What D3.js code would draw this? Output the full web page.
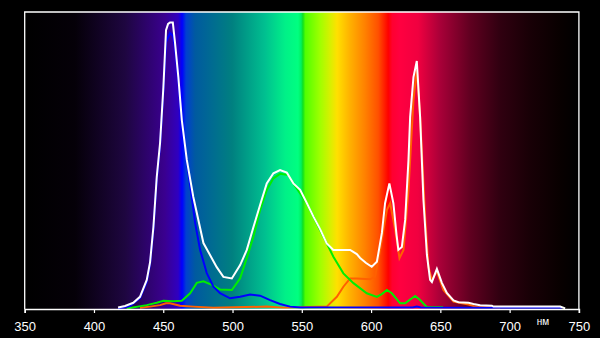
<!DOCTYPE html>
<html><head><meta charset="utf-8">
<script src="https://cdn.jsdelivr.net/npm/d3@7"></script>
<style>html,body{margin:0;padding:0;background:#000;}svg{display:block;}</style>
</head><body>
<script>
// ---- data (wavelength nm, relative intensity 0..100) ----
const tickValues = [350,400,450,500,550,600,650,700,750];
const unitLabel = "нм";

const whiteNm = [417.4,422.4,428.4,433.2,438.1,440.5,442.9,445.3,447.7,450.1,452.0,453.5,454.9,456.9,458.5,460.9,463.4,467.0,471.7,479.0,488.6,493.4,499.5,505.5,510.3,515.1,519.9,524.7,529.5,534.3,539.2,543.9,548.8,553.6,558.4,563.2,568.0,572.8,584.9,589.7,592.1,596.4,600.5,604.2,607.8,610.1,613.2,616.1,618.4,619.7,622.2,624.6,627.0,628.2,630.6,633.0,635.4,637.8,640.3,642.6,643.9,647.5,651.1,654.7,659.5,663.1,670.3,673.9,678.7,687.2,688.3,736.5,740.1];
const whiteVal = [0.5,1.0,2.1,4.1,9.8,15.8,27.6,44.4,55.9,74.7,93.9,96.0,96.5,96.5,89.6,78.1,63.6,50.2,37.7,22.2,14.1,10.8,10.3,14.8,19.9,27.6,35.0,42.3,45.7,46.8,45.9,42.3,40.1,35.7,31.1,26.9,22.1,19.9,19.9,18.5,17.2,15.5,14.2,15.9,25.6,35.6,42.3,35.6,24.9,19.9,20.9,30.0,50.2,64.6,78.1,83.5,64.6,36.7,18.2,9.8,9.1,13.5,8.8,5.4,2.9,2.3,2.1,1.7,1.3,1.1,0.8,0.8,0.2];

const blueNm = [417.4,426.0,433.2,438.1,440.5,442.9,445.3,447.7,450.1,452.0,454.9,457.1,458.5,460.9,463.4,467.0,470.6,473.0,476.6,481.4,486.2,491.0,498.2,505.5,512.7,519.9,527.1,534.3,541.6,548.8,630.0,633.0,636.0,737.7];
const blueVal = [0.2,1.0,3.7,9.1,15.2,26.6,43.4,54.9,73.1,89.9,92.9,91.9,87.9,77.1,63.0,49.5,37.7,29.0,19.9,12.1,7.5,5.3,3.6,4.1,4.9,4.5,3.0,1.7,0.8,0.5,0.5,0.8,0.5,0.4];

const greenNm = [423.6,438.1,445.3,450.1,457.3,463.4,469.4,474.2,479.0,485.0,491.0,499.5,503.1,505.5,510.3,515.1,519.9,524.7,529.5,534.3,540.3,543.9,553.6,563.2,568.0,572.8,580.0,587.3,596.9,604.2,608.0,611.4,615.0,621.0,624.6,628.2,631.8,635.4,640.3,652.0];
const greenVal = [0.2,1.3,2.1,2.8,2.6,2.8,5.3,8.8,9.3,8.1,6.6,6.4,8.7,10.3,17.2,24.3,33.3,40.1,44.0,45.5,45.1,42.3,35.6,26.6,22.1,17.6,12.0,8.7,5.3,4.1,5.1,6.4,5.3,1.9,1.9,3.2,4.4,3.0,0.6,0.6];

const orangeNm = [433.2,440.5,447.7,452.0,454.9,462.1,471.7,486.2,524.7,536.7,568.0,575.3,580.0,584.9,589.7,599.3,602.9,606.5,611.4,613.8,617.4,620.5,623.4,627.0,630.6,633.0,635.4,639.0,641.4,643.9,647.5,652.2,659.5,670.3,675.1,687.2,693.2];
const orangeVal = [0.4,0.8,1.3,1.9,1.9,1.1,0.8,0.4,0.8,0.4,0.8,4.1,7.5,10.3,10.3,10.0,10.9,19.9,33.3,35.6,26.6,17.1,19.9,40.1,70.4,80.5,64.7,31.1,14.2,9.8,12.6,6.4,2.5,1.5,0.8,0.6,0.4];

const spectrumNm = [350,386.3,422.5,451.3,460.7,463.6,466.5,473,499.7,523.5,538,547.3,549.5,550.8,552.5,563.2,570.5,575.5,585,595.8,605.2,611,612.4,615.3,621,634,650,671.6,693,714.8,736.5,750];
const spectrumColor = ["#000000","#050008","#1e0640","#3a0090","#3000c0","#0000ff","#0040d0","#005aa0","#008080","#00c090","#00f088","#00ff80","#00f060","#10e020","#50ff00","#a0ff00","#d8f000","#ffe000","#ffb000","#ff8000","#ff5000","#ff1000","#ff0000","#ff0030","#ff0040","#f00040","#a80038","#600020","#300010","#180006","#080000","#000000"];

// ---- chart ----
const W = 600, H = 338;
const svg = d3.select("body").append("svg").attr("width", W).attr("height", H);
svg.append("rect").attr("width", W).attr("height", H).attr("fill", "#000");

const x = d3.scaleLinear().domain([350, 750]).range([24.7, 578.9]);
const y = d3.scaleLinear().domain([0, 100]).range([309, 12]);

const defs = svg.append("defs");
const grad = defs.append("linearGradient").attr("id", "spec")
  .attr("gradientUnits", "userSpaceOnUse")
  .attr("x1", x(350)).attr("x2", x(750)).attr("y1", 0).attr("y2", 0);
spectrumNm.forEach((n, i) => {
  grad.append("stop").attr("offset", (n - 350) / 400).attr("stop-color", spectrumColor[i]);
});

svg.append("rect").attr("x", x(350)).attr("y", y(100))
  .attr("width", x(750) - x(350)).attr("height", y(0) - y(100))
  .attr("fill", "url(#spec)");

const line = d3.line().x(d => x(d[0])).y(d => y(d[1]));
function series(nm, val, color) {
  svg.append("path").datum(nm.map((n, i) => [n, val[i]]))
    .attr("d", line).attr("fill", "none").attr("stroke", color)
    .attr("stroke-width", 2).attr("stroke-linejoin", "miter");
}
series(orangeNm, orangeVal, "#ff6000");
series(greenNm, greenVal, "#00ee00");
series(blueNm, blueVal, "#0000ff");
series(whiteNm, whiteVal, "#ffffff");

// frame
svg.append("path")
  .attr("d", `M${x(350)},${y(0)}V${y(100)}H${x(750)}V${y(0)}`)
  .attr("fill", "none").attr("stroke", "#fff").attr("stroke-width", 1.3);

// x axis
const axis = svg.append("g").attr("transform", `translate(0,${y(0)})`)
  .call(d3.axisBottom(x).tickValues(tickValues).tickSize(4).tickPadding(9).tickFormat(d3.format("d")));
axis.select(".domain").attr("stroke", "#fff").attr("stroke-width", 1.6);
axis.selectAll(".tick line").attr("stroke", "#fff").attr("stroke-width", 1.2);
axis.selectAll(".tick text").attr("fill", "#fff")
  .attr("font-family", "Liberation Sans, Arial, sans-serif").attr("font-size", 13);

svg.append("text").attr("x", 543).attr("y", 325).attr("text-anchor", "middle")
  .attr("fill", "#fff").attr("font-family", "Liberation Sans, Arial, sans-serif")
  .attr("font-size", 10).text(unitLabel);
</script>
</body></html>
